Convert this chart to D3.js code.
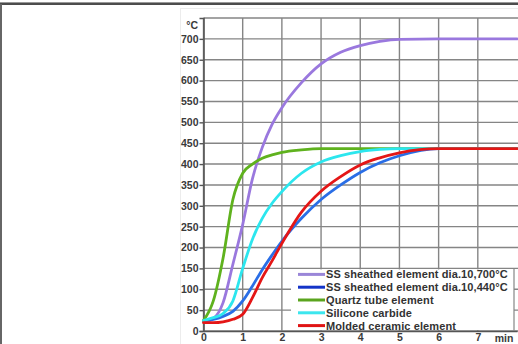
<!DOCTYPE html>
<html>
<head>
<meta charset="utf-8">
<script src="https://cdn.jsdelivr.net/npm/d3@7"></script>
<style>
  body { margin: 0; background: #fff; }
  svg { display: block; font-family: "Liberation Sans", Arial, sans-serif; }
</style>
</head>
<body>
<div id="chart"></div>
<script>
// heating curves, temperature (°C) against time (min)
var width = 518, height = 344;

var times = [0, 0.25, 0.5, 0.75, 1, 1.25, 1.5, 1.75, 2, 2.5, 3, 3.5, 4, 4.5, 5, 6, 7, 8];
var ssHot   = [22, 30, 68, 160, 255, 365, 440, 495, 535, 595, 640, 668, 684, 694, 699, 700, 700, 700];
var ssLow   = [25, 28, 35, 47, 72, 108, 147, 182, 215, 270, 315, 350, 380, 403, 420, 437, 437, 437];
var quartz  = [25, 72, 175, 315, 378, 400, 414, 422, 428, 434, 437, 437, 437, 437, 437, 437, 437, 437];
var silicon = [25, 32, 42, 72, 150, 220, 270, 306, 334, 378, 405, 420, 430, 435, 437, 437, 437, 437];
var ceramic = [20, 20, 22, 28, 40, 80, 128, 168, 210, 285, 335, 370, 398, 415, 427, 437, 437, 437];

var seriesNames = ['SS sheathed element dia.10,700°C', 'SS sheathed element dia.10,440°C',
  'Quartz tube element', 'Silicone carbide', 'Molded ceramic element'];
var lineColors = ['#9a78de', '#2a6ee6', '#5fb21e', '#2ce6ee', '#e41616'];
var legendColors = ['#9a86d8', '#1434c8', '#5aa41e', '#3ce6ee', '#e01414'];

var yTicks = d3.range(0, 701, 50);
var xTicks = d3.range(0, 8);

var svg = d3.select('#chart').append('svg')
  .attr('width', width)
  .attr('height', height);

// page frame
svg.append('line').attr('x1', 0).attr('x2', width).attr('y1', 2.5).attr('y2', 2.5)
  .attr('stroke', '#999').attr('stroke-width', 1);
svg.append('line').attr('x1', 0).attr('x2', width).attr('y1', 4).attr('y2', 4)
  .attr('stroke', '#111').attr('stroke-width', 1.6);
svg.append('line').attr('x1', 1).attr('x2', 1).attr('y1', 4).attr('y2', height)
  .attr('stroke', '#666').attr('stroke-width', 2);

// faint picture border
svg.append('rect').attr('x', 180.5).attr('y', 8.5).attr('width', 340).attr('height', 340)
  .attr('fill', 'none').attr('stroke', '#ececec');

var x = d3.scaleLinear().domain([0, 8]).range([203.5, 517]);
var y = d3.scaleLinear().domain([0, 750]).range([331, 18]);

// grid
svg.append('g').selectAll('line').data(d3.range(0, 751, 50)).enter().append('line')
  .attr('x1', x(0)).attr('x2', width)
  .attr('y1', function(d) { return y(d); }).attr('y2', function(d) { return y(d); })
  .attr('stroke', '#858585').attr('stroke-width', 1.4);
svg.append('g').selectAll('line').data(d3.range(0, 8)).enter().append('line')
  .attr('y1', y(0)).attr('y2', y(750))
  .attr('x1', function(d) { return x(d); }).attr('x2', function(d) { return x(d); })
  .attr('stroke', '#858585').attr('stroke-width', 1.4);

// axes
var yAxis = d3.axisLeft(y).tickValues(yTicks).tickSize(4).tickPadding(1);
var xAxis = d3.axisBottom(x).tickValues(xTicks).tickSize(0).tickPadding(3);

var gy = svg.append('g').attr('transform', 'translate(' + x(0) + ',0)').call(yAxis);
var gx = svg.append('g').attr('transform', 'translate(0,' + y(0) + ')').call(xAxis);
[gy, gx].forEach(function(g) {
  g.select('.domain').attr('stroke', '#555').attr('stroke-width', 1.6);
  g.selectAll('.tick line').attr('stroke', '#555').attr('stroke-width', 1.4);
  g.selectAll('text').attr('font-size', 10.5).attr('font-weight', 'bold')
    .attr('fill', '#3a3a3a').attr('font-family', '"Liberation Sans", Arial, sans-serif');
});

svg.append('text').attr('x', 198).attr('y', 29).attr('text-anchor', 'end')
  .attr('font-size', 10.5).attr('font-weight', 'bold').attr('fill', '#3a3a3a').text('°C');
svg.append('text').attr('x', 504).attr('y', 342).attr('text-anchor', 'middle')
  .attr('font-size', 10.5).attr('font-weight', 'bold').attr('fill', '#3a3a3a').text('min');

// legend box covers the grid
svg.append('rect').attr('x', 291).attr('y', y(150) + 1).attr('width', 223)
  .attr('height', y(0) - y(150) - 2).attr('fill', '#fff');
svg.append('line').attr('x1', 514).attr('x2', 514).attr('y1', y(150)).attr('y2', y(0))
  .attr('stroke', '#858585').attr('stroke-width', 1.2);

// curves
var allSeries = [ssHot, ssLow, quartz, silicon, ceramic];
var line = d3.line()
  .x(function(d, i) { return x(times[i]); })
  .y(function(d) { return y(d); })
  .curve(d3.curveMonotoneX);

allSeries.forEach(function(s, k) {
  svg.append('path').datum(s)
    .attr('d', line)
    .attr('fill', 'none')
    .attr('stroke', lineColors[k])
    .attr('stroke-width', 2.8)
    .attr('stroke-linecap', 'round');
});

// legend
var legend = svg.append('g').attr('transform', 'translate(298,' + (y(150) + 6) + ')');
var rows = legend.selectAll('g').data(seriesNames).enter().append('g')
  .attr('transform', function(d, i) { return 'translate(0,' + (i * 12.8) + ')'; });
rows.append('line').attr('x1', 0).attr('x2', 27).attr('y1', 0).attr('y2', 0)
  .attr('stroke', function(d, i) { return legendColors[i]; }).attr('stroke-width', 3);
rows.append('text').attr('x', 28).attr('y', 4)
  .attr('font-size', 11).attr('font-weight', 'bold').attr('letter-spacing', 0.1).attr('fill', '#333')
  .text(function(d) { return d; });
</script>
</body>
</html>
